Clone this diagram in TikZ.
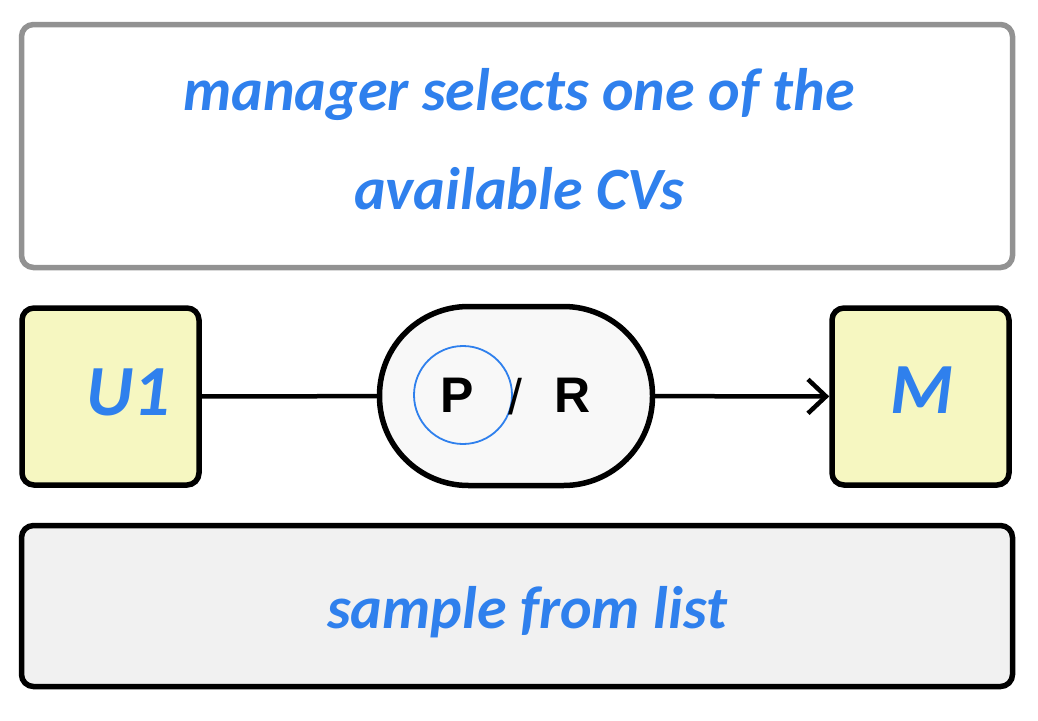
\documentclass[tikz,border=0pt]{standalone}
\usepackage{tikz}
\usetikzlibrary{arrows.meta}
\usepackage{fontspec}
\newfontfamily\handfont{Carlito}
\newfontfamily\labelfont{Liberation Sans}
\usepackage{xcolor}
\definecolor{inkblue}{RGB}{47,128,237}
\definecolor{paleyellow}{RGB}{246,247,193}
\definecolor{framegray}{RGB}{146,146,146}
\definecolor{lightgray}{RGB}{241,241,241}
\definecolor{offwhite}{RGB}{248,248,248}

\begin{document}
\begin{tikzpicture}[x=1pt,y=-1pt]
					\tikzstyle{panel} = [rectangle,draw=black,line width=5.5pt,rounded corners=12pt,inner sep=0pt]
					\tikzstyle{actor} = [panel,fill=paleyellow,minimum width=177pt,minimum height=177pt]
					\tikzstyle{hand} = [font=\handfont\bfseries\itshape\fontsize{60}{99}\selectfont,text=inkblue,align=center]
					\tikzstyle{actorname} = [font=\handfont\bfseries\itshape\fontsize{72}{72}\selectfont,text=inkblue]
					\tikzstyle{letter} = [font=\labelfont\bfseries\fontsize{50}{50}\selectfont]
					\tikzstyle{edge} = [line width=4.5pt,line cap=round]
					\useasboundingbox (0,0) rectangle (1038,720);
					\node[panel,draw=framegray,minimum width=991pt,minimum height=243pt] (note) at (517,146) {};
					\node[hand] (notetext) at (519,139) {manager selects one of the\\available CVs};
					\node[actor] (u1) at (110.5,396.5) {};
					\node[actorname] (u1name) at (128,392) {U1};
					\node[actor] (m) at (920.5,396.5) {};
					\node[actorname] (mname) at (922,390) {M};
					\node[panel,fill=offwhite,minimum width=273pt,minimum height=179pt,rounded corners=89pt] (pr) at (516,396) {};
					\node[circle,draw=inkblue,line width=1.8pt,minimum size=98pt] (pick) at (463,395) {};
					\node[letter] (p) at (457,395) {P};
					\node[letter,font=\labelfont\fontsize{50}{50}\selectfont] (slash) at (515,397) {/};
					\node[letter] (r) at (573,395) {R};
					\node[panel,fill=lightgray,minimum width=991pt,minimum height=161pt] (sample) at (517,606) {};
					\node[hand] (sampletext) at (527,612) {sample from list};
					\draw[edge] (u1)--(pr);
					\draw[edge,-{Straight Barb[length=18pt,width=34pt]}] (pr)--(m);
\end{tikzpicture}
\end{document}
